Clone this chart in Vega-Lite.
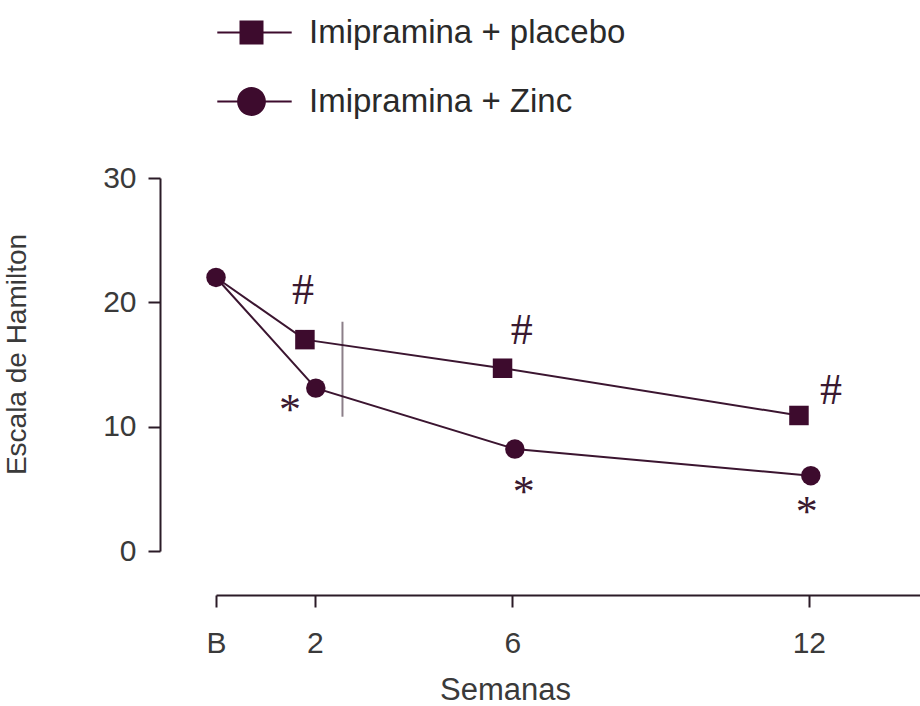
{
  "$schema": "https://vega.github.io/schema/vega-lite/v6.json",
  "width": 704,
  "height": 373,
  "autosize": "none",
  "padding": {"left": 216, "top": 178, "right": 0, "bottom": 155},
  "background": "white",
  "config": {"view": {"stroke": null}, "font": "Liberation Sans"},
  "datasets": {
    "series": [
      {"grupo": "Imipramina + placebo", "semana": 0, "hamilton": 22.0},
      {"grupo": "Imipramina + placebo", "semana": 1.8, "hamilton": 17.0},
      {"grupo": "Imipramina + placebo", "semana": 5.8, "hamilton": 14.7},
      {"grupo": "Imipramina + placebo", "semana": 11.8, "hamilton": 10.9},
      {"grupo": "Imipramina + Zinc", "semana": 0, "hamilton": 22.0},
      {"grupo": "Imipramina + Zinc", "semana": 2.02, "hamilton": 13.1},
      {"grupo": "Imipramina + Zinc", "semana": 6.05, "hamilton": 8.2},
      {"grupo": "Imipramina + Zinc", "semana": 12.04, "hamilton": 6.06}
    ],
    "marcas": [
      {"simbolo": "#", "semana": 1.76, "hamilton": 19.88},
      {"simbolo": "*", "semana": 1.5, "hamilton": 10.25},
      {"simbolo": "#", "semana": 6.19, "hamilton": 16.67},
      {"simbolo": "*", "semana": 6.23, "hamilton": 3.65},
      {"simbolo": "#", "semana": 12.45, "hamilton": 11.84},
      {"simbolo": "*", "semana": 11.96, "hamilton": 2.04}
    ],
    "regla": [
      {"semana": 2.56, "desde": 10.8, "hasta": 18.44}
    ]
  },
  "resolve": {"scale": {"shape": "independent"}, "legend": {"shape": "independent"}},
  "layer": [
    {
      "data": {"name": "regla"},
      "mark": {"type": "rule", "color": "#8c7f89", "strokeWidth": 2},
      "encoding": {
        "x": {"field": "semana", "type": "quantitative", "scale": {"domain": [0, 14.25], "nice": false, "zero": false},
          "axis": {
            "values": [0, 2, 6, 12],
            "labelExpr": "datum.value == 0 ? 'B' : datum.label",
            "title": "Semanas",
            "offset": 44,
            "grid": false,
            "domainColor": "#2b1b27", "domainWidth": 2,
            "tickColor": "#2b1b27", "tickWidth": 2, "tickSize": 12,
            "labelFontSize": 30, "labelColor": "#3a3a3a", "labelBaseline": "alphabetic",
            "labelPadding": 45, "labelFlush": false, "labelOverlap": false,
            "titleFontSize": 31, "titleFontWeight": "normal", "titleColor": "#3a3a3a",
            "titleX": 289, "titleY": 104, "titleBaseline": "alphabetic", "titleAlign": "center"
          }
        },
        "y": {"field": "desde", "type": "quantitative", "scale": {"domain": [0, 30], "nice": false},
          "axis": {
            "values": [0, 10, 20, 30],
            "title": "Escala de Hamilton",
            "offset": 56,
            "grid": false,
            "domainColor": "#2b1b27", "domainWidth": 2,
            "tickColor": "#2b1b27", "tickWidth": 2, "tickSize": 12,
            "labelFontSize": 30, "labelColor": "#3a3a3a", "labelPadding": 12,
            "titleFontSize": 28, "titleFontWeight": "normal", "titleColor": "#3a3a3a",
            "titleAngle": -90, "titleX": -135, "titleY": 176, "titleBaseline": "alphabetic", "titleAlign": "center"
          }
        },
        "y2": {"field": "hasta"}
      }
    },
    {
      "data": {"name": "series"},
      "mark": {"type": "line", "color": "#3b1530", "strokeWidth": 2},
      "encoding": {
        "x": {"field": "semana", "type": "quantitative"},
        "y": {"field": "hamilton", "type": "quantitative"},
        "detail": {"field": "grupo"}
      }
    },
    {
      "data": {"name": "series"},
      "mark": {"type": "point", "filled": true, "opacity": 0, "color": "#3d0b2d", "size": 10},
      "encoding": {
        "x": {"field": "semana", "type": "quantitative"},
        "y": {"field": "hamilton", "type": "quantitative"},
        "shape": {
          "field": "grupo", "type": "nominal",
          "scale": {"domain": ["Imipramina + placebo", "Imipramina + Zinc"],
            "range": ["M-3.1,-0.08H3.1V0.08H-3.1ZM-1.25,-1H0.75V1H-1.25Z", "M-3.1,-0.08H3.1V0.08H-3.1ZM-1.45,0A1.2,1.2,0,1,1,0.95,0A1.2,1.2,0,1,1,-1.45,0Z"]},
          "legend": {
            "orient": "none", "legendX": 22, "legendY": -162,
            "title": null,
            "symbolSize": 576,
            "symbolOpacity": 1,
            "symbolFillColor": "#3d0b2d",
            "labelFontSize": 33, "labelColor": "#2a2a2a", "labelOffset": 38, "labelLimit": 0,
            "rowPadding": 34, "padding": 0
          }
        }
      }
    },
    {
      "data": {"name": "series"},
      "transform": [{"filter": "datum.semana > 0 || datum.grupo == 'Imipramina + Zinc'"}],
      "mark": {"type": "point", "filled": true, "opacity": 1, "color": "#3d0b2d", "size": 380},
      "encoding": {
        "x": {"field": "semana", "type": "quantitative"},
        "y": {"field": "hamilton", "type": "quantitative"},
        "shape": {
          "field": "grupo", "type": "nominal",
          "scale": {"domain": ["Imipramina + placebo", "Imipramina + Zinc"], "range": ["square", "circle"]},
          "legend": null
        }
      }
    },
    {
      "data": {"name": "marcas"},
      "mark": {"type": "text", "font": "Liberation Serif", "fontSize": 44, "color": "#3a1a30", "baseline": "alphabetic", "align": "center"},
      "encoding": {
        "x": {"field": "semana", "type": "quantitative"},
        "y": {"field": "hamilton", "type": "quantitative"},
        "text": {"field": "simbolo"}
      }
    }
  ]
}
